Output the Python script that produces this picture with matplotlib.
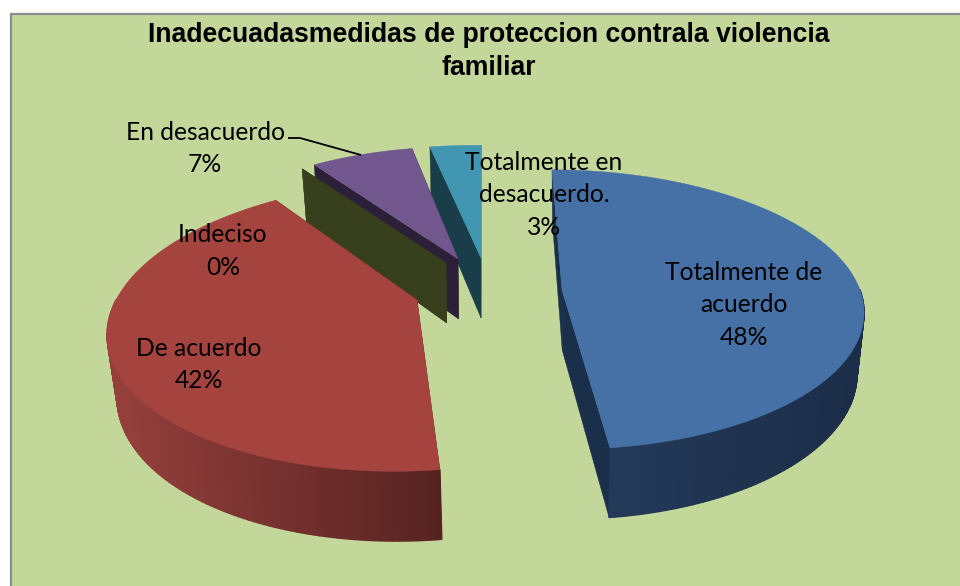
import numpy as np
import matplotlib
matplotlib.use("Agg")
import matplotlib.pyplot as plt
from matplotlib.patches import Polygon, Rectangle
from matplotlib.collections import PolyCollection

# ---- data ----
title = "Inadecuadasmedidas de proteccion contrala violencia\nfamiliar"
categories = ["Totalmente de\nacuerdo", "De acuerdo", "Indeciso", "En desacuerdo", "Totalmente en\ndesacuerdo."]
percents = [48, 42, 0, 7, 3]

# ---- styling / layout (3-D exploded projection of each slice) ----
BG = "#c4d79b"
top_colors = ["#4671a6", "#a5433f", "#4f5a28", "#71578d", "#4196b1"]
cut_colors = ["#1a2f4a", "#5a2422", "#383f1c", "#2b2038", "#1a3d4a"]
wall_left = ["#263d5e", "#96403c", "#383f1c", "#2b2038", "#1a3d4a"]
wall_right = ["#1b2d47", "#572321", "#383f1c", "#2b2038", "#1a3d4a"]
# apex x, apex y, rx, ry, skew, perspective, shrink centre, bend
proj = [(562, 290, 298, 137, -7.7, 0.14, 570, -3.7),
        (417, 300, 301, 141, 19, 0.177, 520, 0),
        (446, 263, 290, 140, -3, 0.25, 480, 0),
        (458, 259, 290, 140, -3, 0.25, 480, 0),
        (481, 258, 340, 141, 0, 0.25, 480, 0)]
draw_order = [4, 3, 2, 1, 0]
DEPTH, DEPTH_Q, SHRINK = 60.0, 0.14, 0.024
label_xy = [(744, 305), (199, 364.5), (223, 251), (205, 148.5), (544, 195)]
label_font = "Lato"
label_size = 17.75


def project(i, t):
    """t: clockwise angle from the top (rad); returns the rim point of slice i."""
    ax_, ay_, rx, ry, sx, p, _, b = proj[i]
    u, v = np.sin(t), np.cos(t)
    w = 1 + p * v
    x = ax_ + (rx * u + sx * v + b * v * v) / w
    y = ay_ - ry * v / w
    return x, y, v


def lower(i, x, y, v):
    return x - SHRINK * (x - proj[i][6]), y + DEPTH / (1 + DEPTH_Q * v)


def mix(a, b, f):
    ca, cb = np.array(matplotlib.colors.to_rgb(a)), np.array(matplotlib.colors.to_rgb(b))
    return tuple(ca + (cb - ca) * f)


fig = plt.figure(figsize=(9.6, 5.86), dpi=100, facecolor="white")
ax = fig.add_axes([0, 0, 1, 1])
ax.set_xlim(0, 960)
ax.set_ylim(586, 0)
ax.axis("off")
ax.add_patch(Rectangle((11, 14), 960, 600, facecolor=BG, edgecolor="#8c8c8c", linewidth=1.6))

edges = np.concatenate([[0], np.cumsum(percents)]) / sum(percents) * 2 * np.pi
for i in draw_order:
    t0, t1 = edges[i], edges[i + 1]
    ts = np.linspace(t0, t1, max(2, int(np.degrees(t1 - t0)) + 2))
    xs, ys, vs = project(i, ts)
    xb, yb = lower(i, xs, ys, vs)
    ax_, ay_ = proj[i][0], proj[i][1]
    apex_b = lower(i, ax_, ay_, 0.0)
    # cut faces
    for x_, y_, xl, yl in [(xs[0], ys[0], xb[0], yb[0]), (xs[-1], ys[-1], xb[-1], yb[-1])]:
        ax.add_patch(Polygon([(ax_, ay_), (x_, y_), (xl, yl), apex_b],
                             closed=True, facecolor=cut_colors[i], edgecolor=cut_colors[i], linewidth=0.3))
    # rim wall (front part only: the back of the rim is hidden by the top face)
    if len(ts) > 2:
        quads, cols = [], []
        for k in range(len(ts) - 1):
            if vs[k] > 0.0 and vs[k + 1] > 0.0:
                continue
            quads.append([(xs[k], ys[k]), (xs[k + 1], ys[k + 1]), (xb[k + 1], yb[k + 1]), (xb[k], yb[k])])
            f = np.clip((xs[k] - xs.min()) / max(1, xs.max() - xs.min()), 0, 1)
            cols.append(mix(wall_left[i], wall_right[i], f))
        if quads:
            ax.add_collection(PolyCollection(quads, facecolors=cols, edgecolors=cols, linewidths=1.0))
    # top face
    if t1 > t0:
        pts = [(ax_, ay_)] + list(zip(xs, ys))
        ax.add_patch(Polygon(pts, closed=True, facecolor=top_colors[i], edgecolor=top_colors[i], linewidth=0.3))

ax.plot([288, 300, 361], [138, 138, 155], color="black", lw=1.3, solid_capstyle="butt")

ax.text(488.5, 51.5, title, ha="center", va="center", fontsize=19.15, fontweight="bold",
        family="Liberation Sans", color="black", linespacing=1.32)
for c, pc, (x, y) in zip(categories, percents, label_xy):
    ax.text(x, y, f"{c}\n{pc}%", ha="center", va="center", fontsize=label_size,
            family=label_font, color="black", linespacing=1.52)

fig.savefig("out.png", dpi=100, facecolor="white")
